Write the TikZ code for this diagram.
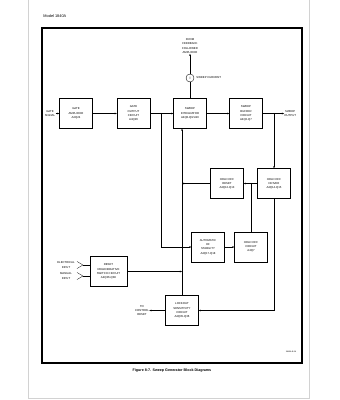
\documentclass[tikz,border=0pt]{standalone}
\usepackage{fontspec}
\setmainfont{Liberation Sans}
\usetikzlibrary{positioning, arrows.meta, shadows}
\definecolor{pagegray}{RGB}{210,210,210}

\begin{document}
\begin{tikzpicture}[x=0.05cm, y=-0.05cm,
    block/.style={draw, line width=0.5pt, fill=white, minimum width=1.65cm, minimum height=1.5cm,
        align=center, inner sep=1pt, font=\fontsize{4}{6}\selectfont,
        drop shadow={shadow xshift=0.6pt, shadow yshift=-0.6pt, opacity=1, fill=black}},
    lbl/.style={align=center, inner sep=0.5pt, font=\fontsize{4}{6}\selectfont},
    wire/.style={line width=0.4pt},
    sig/.style={wire, -{Stealth[length=3pt, width=2.4pt]}},
    jdot/.style={circle, fill, inner sep=0pt, minimum size=1.6pt}]

    % page and frame
    \useasboundingbox (0,0) rectangle (339,400);
    \fill[white] (0,0) rectangle (339,400);
    \draw[pagegray, line width=0.6pt] (28,0) -- (28,398) -- (309,398) -- (309,0);
    \draw[line width=1.6pt] (42,28) rectangle (302,363);
    \node[anchor=west, font=\fontsize{5.5}{6}\selectfont] (model) at (41,16) {Model 1840A};
    \node[font=\bfseries\fontsize{5.2}{6}\selectfont] (caption) at (172,371) {Figure 8-7. Sweep Generator Block Diagrams};
    \node[font=\fontsize{2.8}{3}\selectfont] (figno) at (291,352) {1840A-B-14};

    % blocks
    \node[block] (gateamp) at (76,113.5) {GATE\\AMPLIFIER\\A4Q24};
    \node[block] (gateout) at (133.5,113.5) {GATE\\OUTPUT\\CIRCUIT\\A4Q26};
    \node[block] (integ) at (190,113.5) {SWEEP\\INTEGRATOR\\A4Q8-Q9/U20};
    \node[block] (buffer) at (246,113.5) {SWEEP\\BUFFER\\CIRCUIT\\A4Q2-Q7};
    \node[block] (reader) at (227,183.5) {HOLD OFF\\RESET\\A4Q12-Q13};
    \node[block] (driver) at (274,183.5) {HOLD OFF\\DRIVER\\A4Q14-Q15};
    \node[block] (autohf) at (208,247) {AUTOMATIC\\HF\\STABILITY\\A4Q17-Q18};
    \node[block] (holdoff) at (251,247) {HOLD OFF\\CIRCUIT\\A4Q7};
    \node[block, minimum width=1.85cm] (reset) at (108.5,271.5) {RESET\\REGENERATIVE\\SWITCH CIRCUIT\\A4Q36-Q38};
    \node[block] (lockout) at (182,310.5) {LOCKOUT\\SENSITIVITY\\CIRCUIT\\A4Q35-Q36};

    % sweep current source
    \node[draw, circle, line width=0.5pt, minimum size=0.4cm, inner sep=0pt, font=\fontsize{5}{6}\selectfont] (isrc) at (190,78) {I};
    \node[lbl] (feed) at (190,46) {FROM\\FEEDBACK\\FOLLOWER\\AMPLIFIER};
    \node[lbl, anchor=west] (swcur) at (196,78) {SWEEP CURRENT};
    \draw[sig] (isrc) -- (feed);
    \draw[wire] (isrc) -- (integ);

    % texts at the edges
    \node[lbl] (gatesig) at (50,113.5) {GATE\\SIGNAL};
    \node[lbl, anchor=west] (sweepout) at (284,113.5) {SWEEP\\OUTPUT};
    \node[lbl] (ctrlreset) at (142,310.5) {TO\\CONTROL\\RESET};
    \node[lbl] (elec) at (66,265) {ELECTRICAL\\INPUT};
    \node[lbl] (manual) at (66,276) {MANUAL\\INPUT};

    \coordinate (jgate) at (161,113.5);
    \coordinate (jout) at (274,113.5);
    \coordinate (jhold) at (251,183.5);
    \coordinate (electip) at (83,265);
    \coordinate (mantip) at (83,276);

    % main signal path
    \draw[sig] (gatesig) -- (gateamp);
    \draw[sig] (gateamp) -- (gateout);
    \draw[sig] (gateout) -- (integ);
    \draw[sig] (integ) -- (buffer);
    \draw[sig] (buffer) -- (sweepout);
    \node[jdot] at (jgate) {};
    \node[jdot] at (jout) {};

    % hold off loop
    \draw[sig] (jout) -- (driver);
    \draw[sig] (driver) -- (reader);
    \node[jdot] at (jhold) {};
    \draw[wire] (holdoff.north) -- (jhold);
    \draw[sig] (reader.west) -- (reader.west -| lockout.north);
    \draw[sig] (jgate) |- (autohf.west);
    \draw[sig] (autohf) -- (holdoff);
    \draw[sig] (driver.south) |- (lockout.east);

    % reset and lockout
    \draw[sig] (lockout.north) -- (lockout.north |- integ.south);
    \draw[sig] (reset.east) -- (reset.east -| lockout.north);
    \draw[sig] (lockout) -- (ctrlreset);

    % inputs
    \draw[wire] (77,261.5) to[out=0, in=180] (electip);
    \draw[wire] (77,268.5) to[out=0, in=180] (electip);
    \draw[wire] (electip) -- (electip -| reset.west);
    \draw[wire] (77,272.5) to[out=0, in=180] (mantip);
    \draw[wire] (77,279.5) to[out=0, in=180] (mantip);
    \draw[wire] (mantip) -- (mantip -| reset.west);
\end{tikzpicture}
\end{document}
